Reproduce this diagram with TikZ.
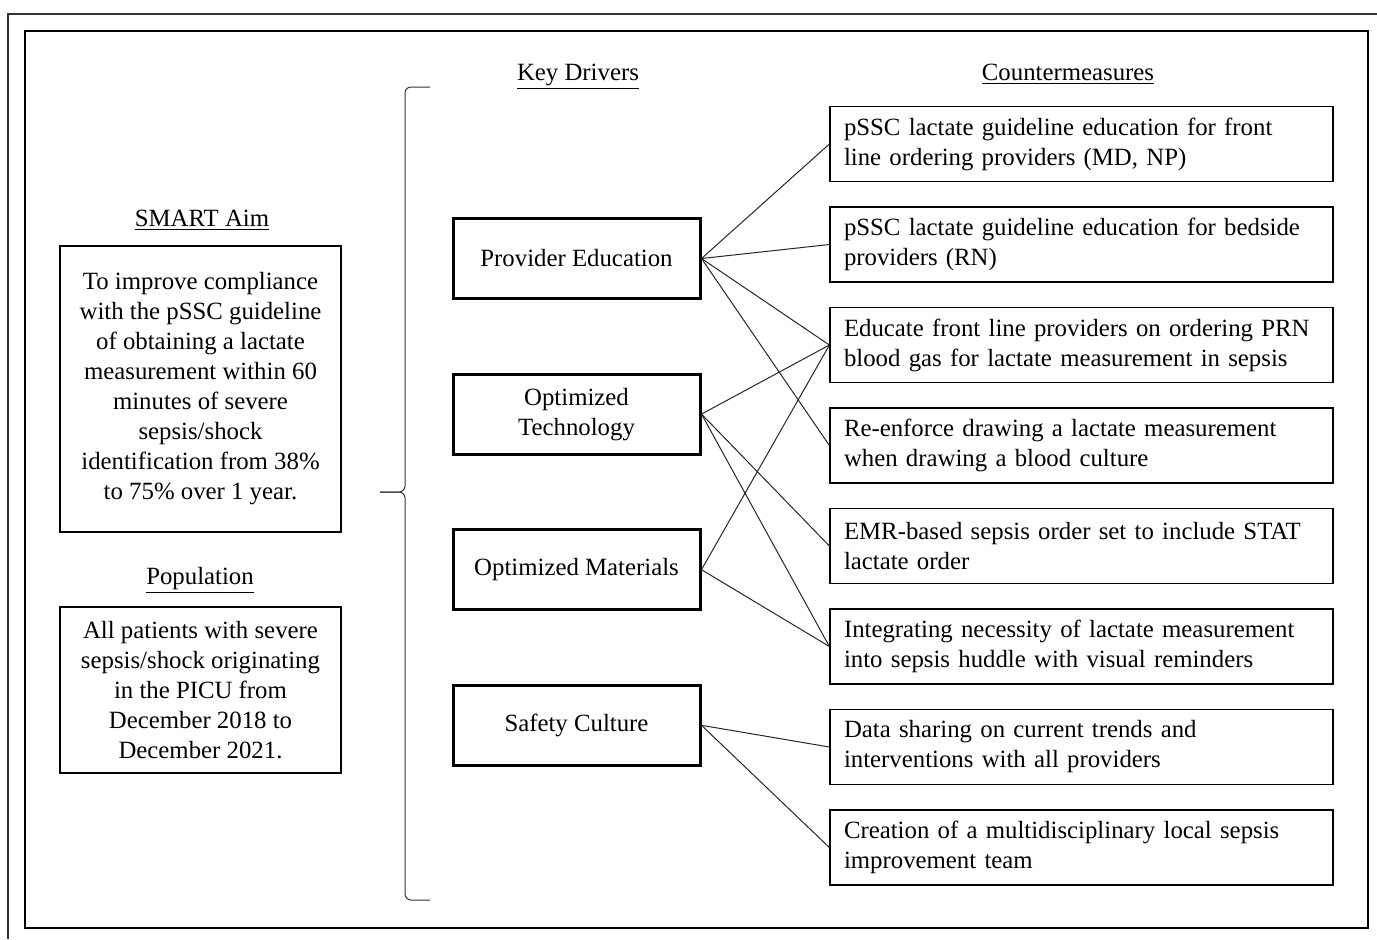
\documentclass[tikz,border=0pt]{standalone}
\usepackage{fontspec}
\setmainfont{Liberation Serif}
\usepackage{tikz}

\begin{document}
\begin{tikzpicture}[x=0.5pt,y=-0.5pt,
  font=\fontsize{12.4}{15}\selectfont,
  driver/.style={draw,line width=1.5pt,minimum width=123.5pt,minimum height=40pt,align=center,inner sep=2pt},
  measure/.style={draw,line width=0.6pt,minimum width=251.5pt,minimum height=37.5pt,text width=237.5pt,inner xsep=7pt,align=left},
  aim/.style={draw,line width=0.6pt,minimum width=140.5pt,align=center},
  head/.style={anchor=base},
  link/.style={-,line width=0.5pt,draw=black!85}]
\useasboundingbox (0,0) rectangle (1377,939);
\draw[line width=1pt,draw=black!80] (8,939) -- (8,14) -- (1377,14);
\draw[line width=1pt] (25,31) rectangle (1368,928);

\node[head] (aimhead) at (202,226) {\underline{SMART Aim}};
\node[aim,minimum height=143pt] (aim) at (200.5,389) {To improve compliance\\with the pSSC guideline\\of obtaining a lactate\\measurement within 60\\minutes of severe\\sepsis/shock\\identification from 38\%\\to 75\% over 1 year.};
\node[head] (pophead) at (200,584) {\underline{Population}};
\node[aim,minimum height=83pt] (pop) at (200.5,690) {All patients with severe\\sepsis/shock originating\\in the PICU from\\December 2018 to\\December 2021.};

\coordinate (btop) at (430,87);
\coordinate (bbot) at (430,900);
\coordinate (btip) at (380,492);
\draw[line width=0.5pt,draw=black!80,rounded corners=3pt] (btop) -- (405,87) -- (405,492) -- (btip);
\draw[line width=0.5pt,draw=black!80,rounded corners=3pt] (bbot) -- (405,900) -- (405,492) -- (btip);

\node[head] (drvhead) at (578,80) {\underline{Key Drivers}};
\node[head] (cmhead) at (1068,80) {\underline{Countermeasures}};

\node[driver] (edu) at (576.5,258.5) {Provider Education};
\node[driver,node distance=77.8pt] (tech) [below of=edu] {Optimized\\Technology};
\node[driver,node distance=77.8pt] (mat) [below of=tech] {Optimized Materials\vphantom{g}};
\node[driver,node distance=77.8pt] (safe) [below of=mat] {Safety Culture\vphantom{g}};

\node[measure] (cm1) at (1081.5,144) {pSSC lactate guideline education for front\\line ordering providers (MD, NP)};
\node[measure,node distance=50.25pt] (cm2) [below of=cm1] {pSSC lactate guideline education for bedside\\providers (RN)};
\node[measure,node distance=50.25pt] (cm3) [below of=cm2] {Educate front line providers on ordering PRN\\blood gas for lactate measurement in sepsis};
\node[measure,node distance=50.25pt] (cm4) [below of=cm3] {Re-enforce drawing a lactate measurement\\when drawing a blood culture};
\node[measure,node distance=50.25pt] (cm5) [below of=cm4] {EMR-based sepsis order set to include STAT\\lactate order};
\node[measure,node distance=50.25pt] (cm6) [below of=cm5] {Integrating necessity of lactate measurement\\into sepsis huddle with visual reminders};
\node[measure,node distance=50.25pt] (cm7) [below of=cm6] {Data sharing on current trends and\\interventions with all providers};
\node[measure,node distance=50.25pt] (cm8) [below of=cm7] {Creation of a multidisciplinary local sepsis\\improvement team};

\foreach \m in {cm1,cm2,cm3,cm4}
  \draw[link] (edu.east) -- (\m.west);
\foreach \m in {cm3,cm5,cm6}
  \draw[link] (tech.east) -- (\m.west);
\foreach \m in {cm3,cm6}
  \draw[link] (mat.east) -- (\m.west);
\foreach \m in {cm7,cm8}
  \draw[link] (safe.east) -- (\m.west);
\end{tikzpicture}
\end{document}
